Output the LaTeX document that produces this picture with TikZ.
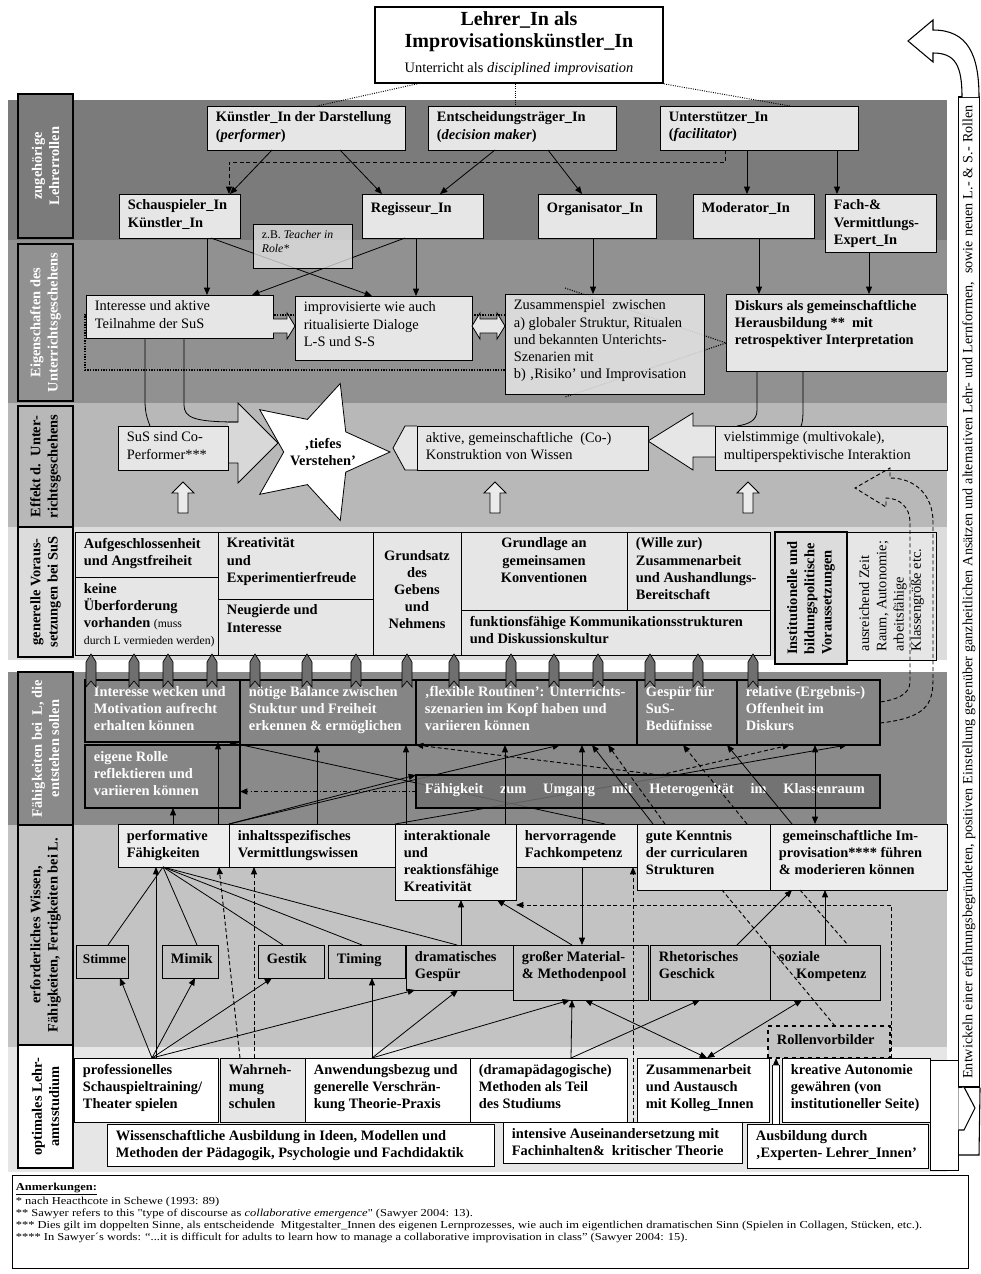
\documentclass[tikz,border=0pt]{standalone}
\usepackage{fontspec}
\setmainfont{Liberation Serif}
\newfontfamily\notefont{Liberation Serif}[FakeStretch=1.17]
\usetikzlibrary{arrows.meta,shapes.geometric}
\definecolor{gA}{HTML}{7B7B7B}
\definecolor{gB}{HTML}{919191}
\definecolor{gC}{HTML}{B8B8B8}
\definecolor{gD}{HTML}{DCDCDC}
\definecolor{gE}{HTML}{8A8A8A}
\definecolor{gF}{HTML}{C3C3C3}
\definecolor{gG}{HTML}{E6E6E6}
\definecolor{lb}{HTML}{E6E6E6}
\definecolor{pb}{HTML}{EDEDED}
\definecolor{db}{HTML}{858585}
\definecolor{dc}{HTML}{6F6F6F}
\newcommand\fs{\fontsize{10.8pt}{12.9pt}\selectfont}
\newcommand\fsq{\fontsize{9.9pt}{12.9pt}\selectfont}
\newcommand\fsm{\fontsize{8.8pt}{10.8pt}\selectfont}
\tikzset{
  bxs/.style={draw=black,line width=0.6pt,fill=lb,inner sep=0pt,outer sep=0pt},
  dkb/.style={draw=black,line width=1.4pt,fill=db},
  txs/.style={inner sep=0pt,font=\fs,execute at begin node=\strut},
  tr/.style={},
  tb/.style={font=\fs\bfseries},
  tq/.style={font=\fsq\bfseries},
  tw/.style={font=\fs\bfseries,text=white},
  arr/.style={-{Triangle[length=5.5pt,width=4.5pt]}},
  arrb/.style={{Triangle[length=5.5pt,width=4.5pt]}-{Triangle[length=5.5pt,width=4.5pt]}},
  ln/.style={line width=0.6pt},
  dsh/.style={dash pattern=on 3pt off 2pt,line width=0.7pt},
  hol/.style={draw=black,line width=0.6pt,fill=#1},
  hol/.default=lb,
  rib/.style={draw=black,line width=0.5pt,fill=dc},
}
\newcommand\mybx[8][]{%
  \pgfmathsetmacro\bxW{(#5-#3)*0.75}%
  \pgfmathsetmacro\bxH{(#6-#4)*0.75}%
  \node[bxs,#1,minimum width=\bxW pt,minimum height=\bxH pt] (#2) at ({(#3+#5)/2},{(#4+#6)/2}) {};%
  \node[txs,anchor=north west,align=left,#7] (#2t) at ([xshift=6.5pt,yshift=-4.3pt]#2.north west) {#8};}
\newcommand\mybxc[8][]{%
  \pgfmathsetmacro\bxW{(#5-#3)*0.75}%
  \pgfmathsetmacro\bxH{(#6-#4)*0.75}%
  \node[bxs,#1,minimum width=\bxW pt,minimum height=\bxH pt] (#2) at ({(#3+#5)/2},{(#4+#6)/2}) {};%
  \node[txs,anchor=north,align=center,#7] (#2t) at ([yshift=-4.3pt]#2.north) {#8};}
\newcommand\mylab[6]{%
  \pgfmathsetmacro\bxH{(#3-#2)*0.75}%
  \node[draw=black,line width=1.4pt,fill=#4,minimum width=41.25pt,minimum height=\bxH pt,inner sep=0pt] (#1) at (45.5,{(#2+#3)/2}) {};%
  \node[rotate=90,align=center,font=\fs\bfseries,text=#5,inner sep=0pt] (#1t) at (#1.center) {#6};}
\begin{document}
\begin{tikzpicture}[x=0.75pt,y=-0.75pt]
\useasboundingbox (0,0) rectangle (981,1274);
\fill[white] (0,0) rectangle (981,1274);
% bands
\fill[gA] (8,100) rectangle (947,240);
\fill[gB] (8,240) rectangle (947,403);
\fill[gC] (8,403) rectangle (947,527);
\fill[gD] (8,527) rectangle (947,660);
\fill[gE] (8,672) rectangle (947,825);
\fill[gF] (8,825) rectangle (947,1047);
\fill[gG] (8,1047) rectangle (947,1172);
% labels
\mylab{L1}{94}{238}{gA}{white}{zugehörige\\Lehrerrollen}
\mylab{L2}{244}{401}{gB}{white}{Eigenschaften des\\Unterrichtsgeschehens}
\mylab{L3}{406}{527}{gC}{black}{Effekt d.\ \ Unter-\\richtsgeschehens}
\mylab{L4}{527}{657}{gD}{black}{generelle Voraus-\\setzungen bei SuS}
\mylab{L5}{672}{825}{gE}{white}{Fähigkeiten bei\ \ L, die\\entstehen sollen}
\mylab{L6}{825}{1045}{gF}{black}{erforderliches Wissen,\\Fähigkeiten, Fertigkeiten bei L.}
\mylab{L7}{1045}{1168}{white}{black}{optimales Lehr-\\amtsstudium}
% title
\node[draw=black,line width=1.3pt,fill=white,minimum width=216pt,minimum height=57pt,inner sep=0pt] (title) at (519,45) {};
\node[inner sep=0pt,align=center,anchor=north,font=\fontsize{15pt}{16.5pt}\selectfont] (titlet) at ([yshift=-4pt]title.north) {\textbf{Lehrer\_In als}\\\textbf{Improvisationskünstler\_In}\\[2pt]{\fs Unterricht als \textit{disciplined improvisation}}};
% band 1
\mybx{K1}{207}{106}{405}{150}{tb}{Künstler\_In der Darstellung\\(\textit{performer})}
\mybx{K2}{428}{106}{616}{150}{tb}{Entscheidungsträger\_In\\(\textit{decision maker})}
\mybx{K3}{660}{106}{858}{150}{tb}{Unterstützer\_In\\(\textit{facilitator})}
\mybx{R1}{119}{194}{240}{238}{tb}{Schauspieler\_In\\Künstler\_In}
\mybx{R2}{362}{194}{483}{238}{tb}{Regisseur\_In}
\mybx{R3}{538}{194}{656}{238}{tb}{Organisator\_In}
\mybx{R4}{693}{194}{814}{238}{tb}{Moderator\_In}
\mybx{R5}{825}{194}{936}{252}{tb}{Fach-\&\\Vermittlungs-\\Expert\_In}
\draw[densely dotted,line width=0.7pt] (title.south -| 417,0) -- (K1.north -| 317,0);
\draw[densely dotted,line width=0.7pt] (title.south -| 515,0) -- (K2.north -| 515,0);
\draw[densely dotted,line width=0.7pt] (title.south east) -- (K3.north -| 790,0);
\draw[ln,arr] (K1.south -| 272,0) -- (R1.north -| 230,0);
\draw[ln,arr] (K1.south -| 340,0) -- (R2.north -| 382,0);
\draw[ln,arr] (K2.south -| 495,0) -- (R2.north -| 440,0);
\draw[ln,arr] (K2.south -| 548,0) -- (R3.north -| 582,0);
\draw[ln,arr] (K3.south -| 747,0) -- (R4.north -| 747,0);
\draw[ln,arr] (K3.south -| 837,0) -- (R5.north -| 837,0);
\draw[dsh,arr] (K3.south -| 725,0) -- ++(0,12) -| (R1.north -| 229,0);
% band 2 background lines
\draw[densely dotted,line width=1pt] (505,315) -- (85,315) -- (85,370) -- (505,370);
\draw[densely dotted,line width=0.8pt] (565,288) -- (726,343) -- (565,397);
\mybx{E1}{86}{295}{273}{338}{tr}{Interesse und aktive\\Teilnahme der SuS}
\mybx{E2}{295}{296}{472}{360}{tr}{improvisierte wie auch\\ritualisierte Dialoge\\L-S und S-S}
\mybx[fill opacity=0.85]{E3}{505}{294}{704}{394}{tr}{Zusammenspiel\ \ zwischen\\a) globaler Struktur, Ritualen\\und bekannten Unterichts-\\Szenarien mit\\b) ‚Risiko’ und Improvisation}
\mybx{E4}{726}{294}{947}{371}{tb}{Diskurs als gemeinschaftliche\\Herausbildung **\ \ mit\\retrospektiver Interpretation}
\draw[hol] (273,319) -- (287,319) -- (287,313) -- (295,326) -- (287,339) -- (287,333) -- (273,333);
\draw[hol] (472,326) -- (480,313) -- (480,319) -- (497,319) -- (497,313) -- (505,326) -- (497,339) -- (497,333) -- (480,333) -- (480,339) -- cycle;
\draw[ln,arr] (R1.south -| 207,0) -- (E1.north -| 207,0);
\draw[ln,arr] (R1.south -| 211,0) -- (E2.north -| 372,0);
\draw[ln,arr] (R2.south -| 405,0) -- (E1.north -| 252,0);
\draw[ln,arr] (R2.south -| 416,0) -- (E2.north -| 416,0);
\draw[ln,arr] (R3.south -| 593,0) -- (E3.north -| 593,0);
\draw[ln,arr] (R4.south -| 759,0) -- (E4.north -| 759,0);
\draw[ln,arr] (R5.south -| 869,0) -- (E4.north -| 869,0);
\mybx[fill opacity=0.75]{TiR}{253}{224}{352}{268}{tr,font=\fsm}{z.B. \textit{Teacher in}\\\textit{Role*}}
% band 3
\draw[hol=gC!55!white] (228,422) -- (238,422) -- (238,403) -- (278,443) -- (238,483) -- (238,463) -- (228,463);
\draw[hol] (417,426) -- (405,426) -- (393,448) -- (405,470) -- (417,470);
\draw[hol] (715,426) -- (693,426) -- (693,413) -- (648,441) -- (693,470) -- (693,457) -- (715,457);
\mybx{F1}{118}{426}{228}{470}{tr}{SuS sind Co-\\Performer***}
\mybx{F2}{417}{426}{648}{470}{tr}{aktive, gemeinschaftliche\ \ (Co-)\\Konstruktion von Wissen}
\mybx{F3}{715}{426}{947}{470}{tr}{vielstimmige (multivokale),\\multiperspektivische Interaktion}
\node[star,star points=5,star point ratio=2.1,minimum size=108pt,inner sep=0pt,shape border rotate=-90,draw=black,line width=0.6pt,fill=white] (star) at (318,452) {};
\node[align=center,font=\fs\bfseries,inner sep=0pt] (start) at (323,452) {‚tiefes\\Verstehen’};
\draw[ln] (E1.south -| 145,0) -- (145,400) .. controls (145,415) and (148,420) .. (F1.north -| 150,0);
\draw[ln] (E1.south -| 184,0) -- (184,405) .. controls (184,418) and (195,422) .. (238,422);
\draw[ln] (E4.south -| 757,0) -- (757,410) .. controls (757,420) and (750,424) .. (F3.north -| 737,0);
\draw[ln] (E4.south -| 803,0) -- (803,410) .. controls (803,420) and (802,424) .. (F3.north -| 801,0);
\foreach \ux in {183,495,748} \draw[hol=white!92!black] ({\ux-5},513) -- ({\ux-5},493) -- ({\ux-11},493) -- (\ux,482) -- ({\ux+11},493) -- ({\ux+5},493) -- ({\ux+5},513) -- cycle;
% band 4
\mybx{C1}{75}{532}{218}{577}{tb}{Aufgeschlossenheit\\und Angstfreiheit}
\mybx{C2}{75}{577}{218}{655}{tb}{keine\\Überforderung\\vorhanden {\fsm\mdseries (muss}\\{\fsm\mdseries durch L vermieden werden)}}
\mybx{C3}{218}{532}{373}{599}{tb}{Kreativität\\und\\Experimentierfreude}
\mybx{C4}{218}{599}{373}{655}{tb}{Neugierde und\\Interesse}
\mybxc{C5}{373}{532}{461}{655}{tb,yshift=-9pt}{Grundsatz\\des\\Gebens\\und\\Nehmens}
\mybxc{C6}{461}{532}{627}{610}{tb}{Grundlage an\\gemeinsamen\\Konventionen}
\mybx{C7}{627}{532}{770}{610}{tb}{(Wille zur)\\Zusammenarbeit\\und Aushandlungs-\\Bereitschaft}
\mybx{C8}{461}{610}{770}{655}{tb}{funktionsfähige Kommunikationsstrukturen\\und Diskussionskultur}
\node[draw=black,line width=1.4pt,fill=gD,minimum width=54pt,minimum height=99pt,inner sep=0pt] (Inst) at (811,598) {};
\node[rotate=90,align=left,font=\fs\bfseries,inner sep=0pt] (Instt) at (Inst.center) {Institutionelle und\\bildungspolitische\\Voraussetzungen};
\node[draw=black,line width=0.5pt,fill=lb,minimum width=66.75pt,minimum height=96pt,inner sep=0pt] (Aus) at (891.5,596) {};
\node[rotate=90,align=left,font=\fs,inner sep=0pt] (Aust) at (Aus.center) {ausreichend Zeit\\Raum, Autonomie;\\arbeitsfähige\\Klassengröße etc.};
\draw[dsh] (880,723) .. controls (925,718) and (933,705) .. (933,680) -- (933,522) .. controls (933,495) and (915,478) .. (890,478) -- (890,468) -- (855,488) -- (886,507) -- (886,498) .. controls (900,498) and (910,508) .. (910,522) -- (910,682) .. controls (910,695) and (895,700) .. (880,702);
% band 6 upper boxes
\mybx[fill=pb]{P1}{118}{824}{229}{867}{tb}{performative\\Fähigkeiten}
\mybx[fill=pb]{P2}{229}{824}{395}{867}{tb}{inhaltsspezifisches\\Vermittlungswissen}
\mybx[fill=pb]{P3}{395}{824}{516}{900}{tb}{interaktionale\\und\\reaktionsfähige\\Kreativität}
\mybx[fill=pb]{P4}{516}{824}{637}{867}{tb}{hervorragende\\Fachkompetenz}
\mybx[fill=pb]{P5}{637}{824}{770}{890}{tb}{gute Kenntnis\\der curricularen\\Strukturen}
\mybx[fill=pb]{P6}{770}{824}{947}{890}{tb}{\ gemeinschaftliche Im-\\provisation**** führen\\\& moderieren können}
% band 5 boxes (O-row), with lines behind O7
\coordinate (O1br) at (228,742);
\coordinate (O5bb) at (847,745);
\coordinate (O3bb) at (560,745);
\draw[ln,arr] (P4.north -| 605,0) -- (O1br);
\draw[ln,arr] (P2.north east) -- (O5bb);
\draw[ln,arr] (P1.north east) -- (O3bb);
\mybx[dkb]{O1}{85}{680}{240}{742}{tw}{Interesse wecken und\\Motivation aufrecht\\erhalten können}
\mybx[dkb]{O2}{240}{680}{416}{745}{tw}{nötige Balance zwischen\\Stuktur und Freiheit\\erkennen \& ermöglichen}
\mybx[dkb]{O3}{416}{680}{637}{745}{tw}{‚flexible Routinen’: Unterrichts-\\szenarien im Kopf haben und\\variieren können}
\mybx[dkb]{O4}{637}{680}{737}{745}{tw}{Gespür für\\SuS-\\Bedüfnisse}
\mybx[dkb]{O5}{737}{680}{880}{745}{tw}{relative (Ergebnis-)\\Offenheit im\\Diskurs}
\mybx[dkb]{O6}{85}{745}{240}{808}{tw}{eigene Rolle\\reflektieren und\\variieren können}
\mybx[dkb,fill=dc,fill opacity=0.85]{O7}{416}{775}{880}{808}{tw}{\makebox[330pt][s]{Fähigkeit zum Umgang mit Heterogenität im Klassenraum}}
\foreach \rx in {91,134,168,212,255,307,356,407,454,511,554,598,650,698,753} \draw[rib] ({\rx-5},687) -- ({\rx-5},662) -- (\rx,654) -- ({\rx+5},662) -- ({\rx+5},687) -- (\rx,681) -- cycle;
% band 6 lower boxes
\mybx[fill=gF]{Q1}{76}{945}{128}{978}{tq,xshift=-1.5pt}{Stimme}
\mybx[fill=gF]{Q2}{162}{945}{218}{978}{tb}{Mimik}
\mybx[fill=gF]{Q3}{258}{945}{324}{978}{tb}{Gestik}
\mybx[fill=gF]{Q4}{328}{945}{405}{978}{tb}{Timing}
\mybx[fill=gF]{Q5}{406}{945}{513}{990}{tb}{dramatisches\\Gespür}
\mybx[fill=gF]{Q6}{513}{945}{648}{1000}{tb}{großer Material-\\\& Methodenpool}
\mybx[fill=gF]{Q7}{650}{945}{770}{1000}{tb}{Rhetorisches\\Geschick}
\mybx[fill=gF]{Q8}{770}{945}{880}{1000}{tb}{soziale\\\hspace*{1.2em}Kompetenz}
\mybx[fill=gF,dashed,line width=1.3pt]{Rollen}{768}{1026}{890}{1058}{tb}{Rollenvorbilder}
% band 7
\mybx[fill=white]{T1}{74}{1058}{218}{1122}{tb}{professionelles\\Schauspieltraining/\\Theater spielen}
\mybx[fill=gG]{T2}{220}{1058}{305}{1122}{tb}{Wahrneh-\\mung\\schulen}
\mybx[fill=white]{T3}{305}{1058}{470}{1122}{tb}{Anwendungsbezug und\\generelle Verschrän-\\kung Theorie-Praxis}
\mybx[fill=white]{T4}{470}{1058}{627}{1122}{tb}{(dramapädagogische)\\Methoden als Teil\\des Studiums}
\mybx[fill=white]{T5}{637}{1058}{769}{1122}{tb}{Zusammenarbeit\\und Austausch\\mit Kolleg\_Innen}
\mybx[fill=white]{T6}{782}{1058}{930}{1122}{tb}{kreative Autonomie\\gewähren (von\\institutioneller Seite)}
\mybx[fill=white]{U1}{107}{1124}{494}{1166}{tb}{Wissenschaftliche Ausbildung in Ideen, Modellen und\\Methoden der Pädagogik, Psychologie und Fachdidaktik}
\mybx[fill=white]{U2}{503}{1122}{742}{1163}{tb}{intensive Auseinandersetzung mit\\Fachinhalten\&\ \ kritischer Theorie}
\mybx[fill=white]{U3}{747}{1124}{928}{1168}{tb}{Ausbildung durch\\‚Experten- Lehrer\_Innen’}
% band 5/6 connectors
\draw[ln,arr] (P1.north -| 173,0) -- (O6.south -| 173,0);
\draw[ln,arr] (P1.north -| 218,0) -- (O1.south -| 218,0);
\draw[ln,arr] (P1.north east) -- (O7.north west);
\draw[ln,arr] (P2.north -| 317,0) -- (O2.south -| 317,0);
\draw[ln,arr] (P3.north -| 406,0) -- (O2.south -| 406,0);
\draw[ln,arr] (P3.north -| 505,0) -- (O3.south -| 505,0);
\draw[ln,arr] (P4.north -| 582,0) -- (O3.south -| 582,0);
\draw[ln,arr] (P5.north -| 653,0) -- (O3.south -| 592,0);
\draw[dsh,arr] (P5.north -| 665,0) -- (O3.south -| 608,0);
\draw[dsh,arr] (P5.north -| 747,0) -- (O4.south -| 683,0);
\draw[ln,arr] (P6.north -| 792,0) -- (O4.south -| 727,0);
\draw[ln,arrb] (P6.north -| 815,0) -- (O5.south -| 815,0);
\draw[dsh,arr] (O7.north -| 660,0) -- (O3.south west);
\draw[dsh,arr] (O7.north -| 660,0) -- (O5.south -| 790,0);
\draw[dash dot,line width=0.9pt,arr] (O7.west) -- (O6.east |- O7.west);
% band 6/7 connectors
\foreach \qn/\qx in {Q1/108,Q2/197,Q3/283,Q4/362,Q5/457} \draw[ln] (P1.south -| 163,0) -- (\qn.north -| \qx,0);
\draw[ln,arr] (T1.north -| 156,0) -- (P1.south -| 156,0);
\draw[dsh,arr] (T2.north -| 240,0) -- (P1.south -| 219,0);
\draw[dsh,arr] (T2.north -| 254,0) -- (P2.south -| 254,0);
\foreach \qn/\qx in {Q1/120,Q2/195,Q3/272,Q5/415} \draw[ln,arr] (T1.north -| 152,0) -- (\qn.south -| \qx,0);
\foreach \qn/\qx in {Q4/372,Q5/458,Q6/570} \draw[ln,arr] (T3.north -| 372,0) -- (\qn.south -| \qx,0);
\draw[ln,arr] (T4.north -| 571,0) -- (Q6.south -| 572,0);
\draw[ln,arr] (T4.north -| 571,0) -- (Q7.south -| 700,0);
\draw[ln,arrb] (T5.north -| 707,0) -- (Q6.south -| 585,0);
\draw[ln,arrb] (T5.north -| 707,0) -- (Q8.south -| 802,0);
\draw[ln,arr] (Q5.north -| 461,0) -- (P3.south -| 461,0);
\draw[ln,arr] (P4.south -| 582,0) -- (Q6.north -| 582,0);
\draw[ln,arr] (Q6.north -| 572,0) -- (P3.south -| 497,0);
\draw[ln,arr] (Q7.north -| 737,0) -- (P6.south -| 792,0);
\draw[ln,arr] (Q8.north -| 825,0) -- (P6.south -| 825,0);
\draw[dsh] (Rollen.north -| 835,0) -- (P5.south -| 722,0);
\draw[dsh] (P6.south -| 800,0) -- (Q8.north -| 848,0);
\draw[dsh,arr] (T6.north -| 891,0) -- (891,905) -- (P3.east |- 0,905);
\draw[dsh,arr] (U2.north -| 633,0) -- (P4.south -| 633,0);
\draw[ln,double,double distance=5pt,arr] (U3.north -| 776,0) -- (Rollen.south -| 776,0);
% right side arrow
\node[draw=black,line width=0.6pt,fill=white,minimum width=21pt,minimum height=82.5pt,inner sep=0pt] (tailbox) at (944,1115) {};
\node[draw=black,line width=0.8pt,fill=white,minimum width=15.75pt,minimum height=742.5pt,inner sep=0pt] (side) at (969,592) {};
\node[rotate=90,inner sep=0pt,font=\fontsize{10.6pt}{13pt}\selectfont] (sidet) at (side.center) {\makebox[730pt][s]{Entwickeln einer erfahrungsbegründeten, positiven Einstellung gegenüber ganzheitlichen Ansätzen und alternativen Lehr- und Lernformen,\ \ sowie neuen L.- \& S.- Rollen}};
\draw[line width=0.8pt,fill=white] (962,97) .. controls (962,65) and (955,53) .. (933,53) -- (933,62) -- (908,41) -- (933,20) -- (933,30) .. controls (968,30) and (979,55) .. (979,97);
\draw[line width=0.8pt,fill=white] (tailbox.north east |- side.south) -- (964,1087) -- (975,1108) -- (964,1130) -- (tailbox.east |- 0,1130);
\draw[line width=0.8pt] (side.south east) -- (979,1155) -- (tailbox.east |- 0,1155);
% notes
\node[draw=black,line width=0.6pt,minimum width=717pt,minimum height=69.75pt,inner sep=0pt] (notes) at (490,1221.5) {};
\node[anchor=north west,align=left,inner sep=0pt,font=\notefont\fontsize{8pt}{9pt}\selectfont] (notest) at ([xshift=3pt,yshift=-6pt]notes.north west) {\textbf{\underline{Anmerkungen:}}\\{*} nach Heacthcote in Schewe (1993: 89)\\{**} Sawyer refers to this \char"22 type of discourse as \textit{collaborative emergence}\char"22{} (Sawyer 2004: 13).\\{***} Dies gilt im doppelten Sinne, als entscheidende\ \ Mitgestalter\_Innen des eigenen Lernprozesses, wie auch im eigentlichen dramatischen Sinn (Spielen in Collagen, Stücken, etc.).\\{****} In Sawyer´s words: “...it is difficult for adults to learn how to manage a collaborative improvisation in class” (Sawyer 2004: 15).};
\end{tikzpicture}
\end{document}
